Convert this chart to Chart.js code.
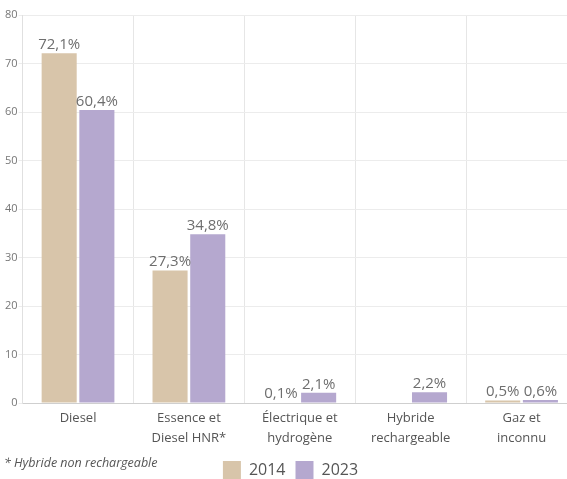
<!DOCTYPE html>
<html>
<head>
<meta charset="utf-8">
<script src="https://cdn.jsdelivr.net/npm/chart.js@4"></script>
<style>
  html, body { margin: 0; padding: 0; background: #fff; }
  #wrap { width: 567px; height: 479px; overflow: hidden; position: relative; }
  #box { width: 577px; height: 479px; }
</style>
</head>
<body>
<div id="wrap"><div id="box"><canvas id="myChart"></canvas></div></div>
<script>
var categories = [
  ['Diesel'],
  ['Essence et', 'Diesel HNR*'],
  ['Électrique et', 'hydrogène'],
  ['Hybride', 'rechargeable'],
  ['Gaz et', 'inconnu']
];
var values2014 = [72.1, 27.3, 0.1, null, 0.5];
var values2023 = [60.4, 34.8, 2.1, 2.2, 0.6];
var yTicks = [0, 10, 20, 30, 40, 50, 60, 70, 80];
var footnote = '* Hybride non rechargeable';

var fontFamily = '"Open Sans", "Noto Sans", sans-serif';

// value labels above each bar, plus the footnote
var valueLabels = {
  id: 'valueLabels',
  afterDatasetsDraw: function(chart) {
    var c = chart.ctx;
    c.save();
    c.font = '15px ' + fontFamily;
    c.fillStyle = '#6e6e6e';
    c.textAlign = 'center';
    c.textBaseline = 'bottom';
    chart.data.datasets.forEach(function(ds, i) {
      chart.getDatasetMeta(i).data.forEach(function(bar, j) {
        var v = ds.data[j];
        if (v === null || v === undefined) return;
        c.fillText(v.toFixed(1).replace('.', ',') + '%', bar.x, bar.y - 1);
      });
    });
    c.font = 'italic 12.5px ' + fontFamily;
    c.fillStyle = '#555';
    c.textAlign = 'left';
    c.textBaseline = 'middle';
    c.fillText(footnote, 4, 463);
    c.restore();
  }
};

var ctx = document.getElementById('myChart').getContext('2d');
var myChart = new Chart(ctx, {
  type: 'bar',
  data: {
    labels: categories,
    datasets: [{
      label: '2014',
      data: values2014,
      backgroundColor: '#d8c5aa'
    },
    {
      label: '2023',
      data: values2023,
      backgroundColor: '#b5a8cf'
    }]
  },
  options: {
    responsive: true,
    maintainAspectRatio: false,
    animation: false,
    categoryPercentage: 0.68,
    barPercentage: 0.93,
    layout: {
      padding: { top: 15, left: 4, right: 0, bottom: -10 }
    },
    scales: {
      x: {
        grid: {
          offset: true,
          color: '#e6e6e6',
          drawTicks: false
        },
        border: { color: '#cfcfcf' },
        afterFit: function(scale) { scale.height = 48; },
        ticks: {
          color: '#555',
          padding: 6,
          font: { family: fontFamily, size: 13, lineHeight: 1.5 }
        }
      },
      y: {
        min: 0,
        max: 80,
        afterBuildTicks: function(axis) {
          axis.ticks = yTicks.map(function(v) { return { value: v }; });
        },
        grid: {
          color: '#ececec',
          tickLength: 4
        },
        border: { color: '#e0e0e0' },
        ticks: {
          color: '#777',
          padding: 1,
          font: { family: fontFamily, size: 11 }
        }
      }
    },
    plugins: {
      legend: {
        position: 'bottom',
        labels: {
          boxWidth: 18,
          boxHeight: 18,
          padding: 10,
          color: '#555',
          font: { family: fontFamily, size: 16 }
        }
      },
      tooltip: { enabled: false }
    }
  },
  plugins: [valueLabels]
});
</script>
</body>
</html>
